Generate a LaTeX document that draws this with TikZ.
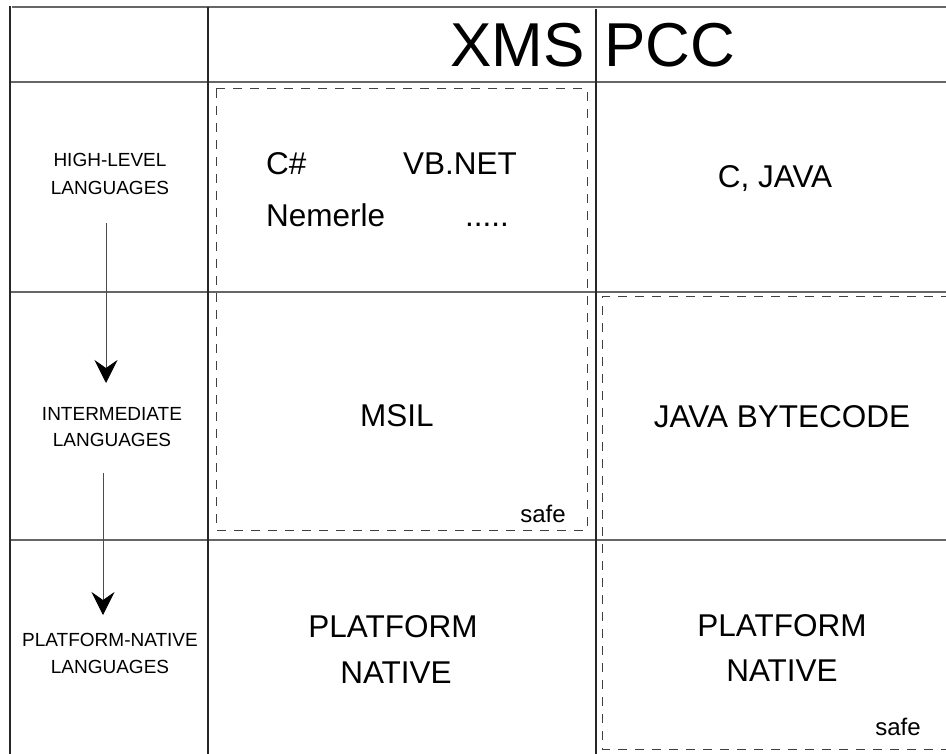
\documentclass[tikz,border=0pt]{standalone}
\usepackage{fontspec}
\setmainfont{Liberation Sans}
\usetikzlibrary{arrows.meta}
\begin{document}
\begin{tikzpicture}[x=1pt,y=-1pt,
  rowrule/.style={line width=1.6pt, draw=black!60},
  colrule/.style={line width=1.2pt, draw=black!85},
  safebox/.style={draw=black!75, line width=1pt, dash pattern=on 9pt off 8pt},
  flow/.style={draw=black!70, line width=1pt,
    -{Stealth[length=23pt,width=23pt,inset=8pt,color=black]}},
  lbl/.style={inner sep=0pt, anchor=base, font=\fontsize{19}{19}\selectfont},
  big/.style={inner sep=0pt, anchor=base, font=\fontsize{31.5}{31.5}\selectfont},
  headtxt/.style={inner sep=0pt, font=\fontsize{62}{62}\selectfont},
  tag/.style={inner sep=0pt, anchor=base, font=\fontsize{24}{24}\selectfont}]
\useasboundingbox (0,0) rectangle (946,754);

% table rules
\draw[rowrule] (12,7) -- (946,7);
\draw[rowrule] (10,82) -- (946,82);
\draw[rowrule] (10,292) -- (946,292);
\draw[rowrule] (10,540) -- (946,540);
\draw[colrule] (10,6) -- (10,754);
\draw[colrule] (208,7) -- (208,754);
\draw[colrule] (596,9) -- (596,754);

% column headings
\node[headtxt, anchor=base east] (xms) at (585,67) {XMS};
\node[headtxt, anchor=base west] (pcc) at (604,67) {PCC};

% row labels
\node[lbl] (hlA) at (110,167) {HIGH-LEVEL};
\node[lbl] (hlB) at (110,195) {LANGUAGES};
\node[lbl] (imA) at (112,420) {INTERMEDIATE};
\node[lbl] (imB) at (112,446) {LANGUAGES};
\node[lbl] (pnA) at (110,646) {PLATFORM-NATIVE};
\node[lbl] (pnB) at (110,673) {LANGUAGES};

% compilation flow
\coordinate (f1s) at (106,223);
\coordinate (f1e) at (106,383);
\coordinate (f2s) at (103,473);
\coordinate (f2e) at (103,615);
\draw[flow] (f1s) -- (f1e);
\draw[flow] (f2s) -- (f2e);

% safe regions
\draw[safebox] (216,89) rectangle (587,530);
\draw[safebox] (950,297) -- (602,297) -- (602,749) -- (950,749);
\node[tag] (safeA) at (543,522) {safe};
\node[tag] (safeB) at (898,735) {safe};

% XMS column
\node[big, anchor=base west] (cs) at (266,175) {C\#};
\node[big, anchor=base west] (vb) at (403,175) {VB.NET};
\node[big, anchor=base west] (nem) at (266,227) {Nemerle};
\node[big, anchor=base west] (dots) at (465,227) {.....};
\node[big] (msil) at (397,426) {MSIL};
\node[big] (xpA) at (393,637) {PLATFORM};
\node[big] (xpB) at (396,683) {NATIVE};

% PCC column
\node[big] (cj) at (775,188) {C, JAVA};
\node[big] (jbc) at (782,427) {JAVA BYTECODE};
\node[big] (ppA) at (782,636) {PLATFORM};
\node[big] (ppB) at (782,681) {NATIVE};
\end{tikzpicture}
\end{document}
